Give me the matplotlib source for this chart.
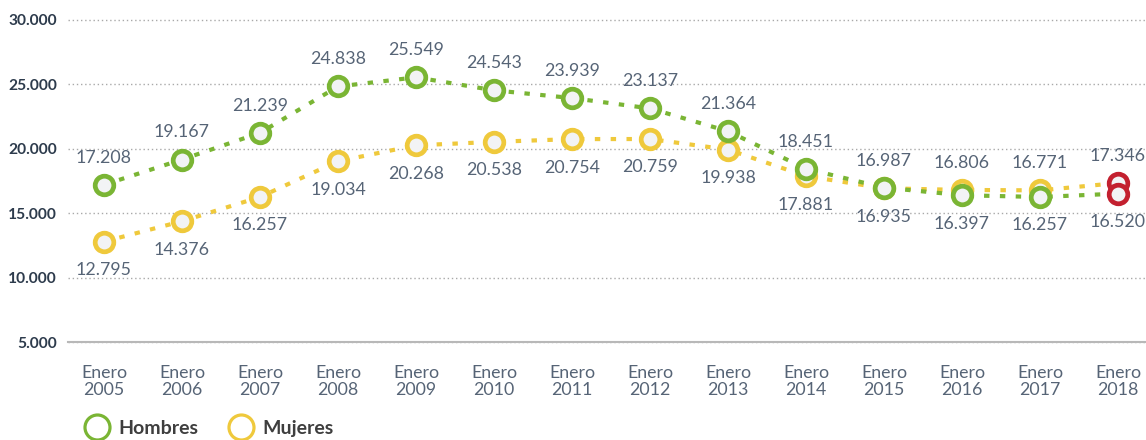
import matplotlib
matplotlib.use("Agg")
import matplotlib.pyplot as plt
from matplotlib.lines import Line2D
from matplotlib.ticker import FuncFormatter, FixedLocator

# ---- data ----
periodos = ["Enero\n2005", "Enero\n2006", "Enero\n2007", "Enero\n2008", "Enero\n2009",
            "Enero\n2010", "Enero\n2011", "Enero\n2012", "Enero\n2013", "Enero\n2014",
            "Enero\n2015", "Enero\n2016", "Enero\n2017", "Enero\n2018"]
hombres = [17208, 19167, 21239, 24838, 25549, 24543, 23939, 23137, 21364, 18451,
           16987, 16397, 16257, 16520]
mujeres = [12795, 14376, 16257, 19034, 20268, 20538, 20754, 20759, 19938, 17881,
           16935, 16806, 16771, 17346]
y_ticks = [5000, 10000, 15000, 20000, 25000, 30000]
series_names = ["Hombres", "Mujeres"]

# ---- style ----
GREEN = "#7ab534"
YELLOW = "#efc93c"
RED = "#c3202f"
FACE = "#f2f3f5"
LABEL_C = "#566476"
TICK_C = "#2d3b4c"
FONT = ["Lato", "DejaVu Sans"]

plt.rcParams["font.family"] = FONT

W, H = 1146, 440
fig = plt.figure(figsize=(W / 100, H / 100), dpi=100)
left_px, right_px, top_px, bot_px = 68, 1146, 20, 342
ax = fig.add_axes([left_px / W, (H - bot_px) / H, (right_px - left_px) / W, (bot_px - top_px) / H])

x = list(range(len(periodos)))
ax.set_ylim(5000, 30000)
x0_px, step_px = 104, 78.0
ax.set_xlim((left_px - x0_px) / step_px, (right_px - x0_px) / step_px)


def fmt(v):
    return f"{int(round(v)):,}".replace(",", ".")


ms, mew = 13.4, 3.4
for vals, col, z in [(mujeres, YELLOW, 3), (hombres, GREEN, 4)]:
    ax.plot(x, vals, color=col, lw=3.0, linestyle=(0, (1.3, 2.5)),
            dash_capstyle="butt", zorder=z, clip_on=False)
for vals, col, z in [(mujeres, YELLOW, 5), (hombres, GREEN, 6)]:
    ax.plot(x[:-1], vals[:-1], linestyle="none", marker="o", ms=ms, mew=mew,
            mec=col, mfc=FACE, zorder=z, clip_on=False)
    ax.plot(x[-1:], vals[-1:], linestyle="none", marker="o", ms=ms, mew=mew,
            mec=RED, mfc=FACE, zorder=z, clip_on=False)

# value labels: higher value above, lower below
for i in x:
    for vals, other in [(hombres, mujeres), (mujeres, hombres)]:
        above = vals[i] >= other[i]
        ax.annotate(fmt(vals[i]), (i, vals[i]), xytext=(0, 19.5 if above else -20.5),
                    textcoords="offset points", ha="center", va="center",
                    fontsize=12.8, color=LABEL_C, zorder=8, annotation_clip=False)

# axes styling
for s in ["top", "left", "right"]:
    ax.spines[s].set_visible(False)
ax.spines["bottom"].set_color("#b8b8b8")
ax.spines["bottom"].set_linewidth(1.5)
ax.yaxis.set_major_locator(FixedLocator(y_ticks))
ax.yaxis.set_major_formatter(FuncFormatter(lambda v, p: fmt(v)))
ax.set_xticks(x)
ax.set_xticklabels(periodos, fontsize=12.8, color=LABEL_C, linespacing=1.05)
ax.tick_params(axis="x", length=0, pad=16.5)
ax.tick_params(axis="y", length=0, pad=8, labelsize=11.2, labelcolor=TICK_C)
for lab in ax.get_yticklabels():
    lab.set_fontweight("bold")
ax.grid(axis="y", color="#a9a9a9", lw=1.0, linestyle=(0, (1, 2)))
ax.grid(axis="x", visible=False)
for gl in ax.get_ygridlines():
    gl.set_clip_on(False)

# legend
handles = [Line2D([], [], linestyle="none", marker="o", ms=18, mew=2.3, mec=c, mfc="white")
           for c in (GREEN, YELLOW)]
fig.legend(handles, series_names, loc="center left", bbox_to_anchor=(87 / W, 1 - 428 / H),
           ncol=2, frameon=False, handlelength=1.0, handletextpad=0.6, columnspacing=1.7,
           prop={"family": FONT, "weight": "bold", "size": 14}, labelcolor="#3e3e3e",
           borderaxespad=0, borderpad=0)

fig.savefig("out.png", dpi=100)
